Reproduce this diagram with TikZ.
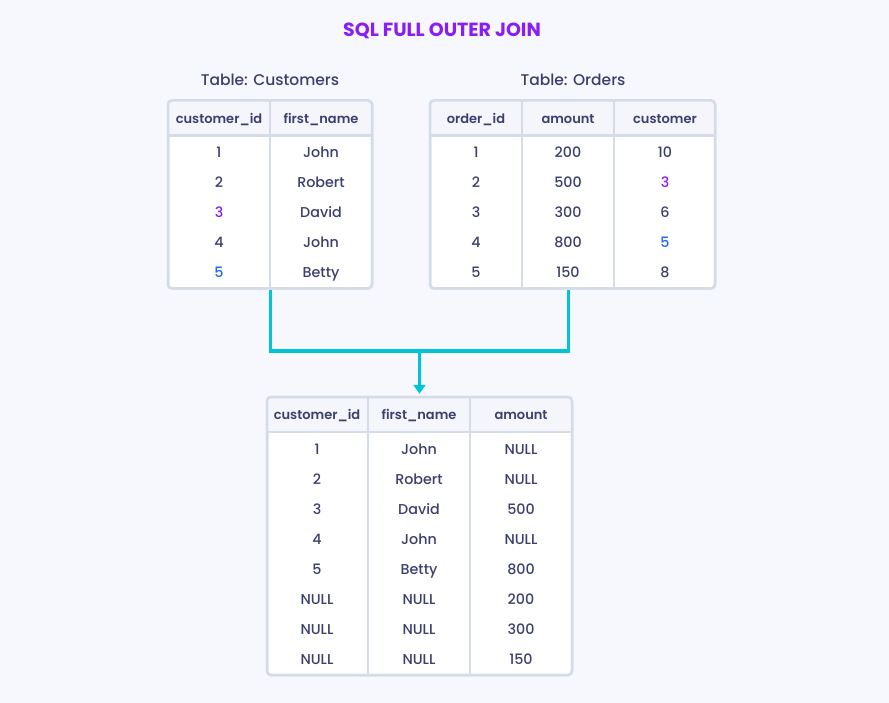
\documentclass[tikz,border=0pt]{standalone}
\usepackage{fontspec}
\setmainfont{Poppins}
\IfFontExistsTF{Poppins Medium}{\newfontfamily\medf{Poppins Medium}}{\newfontfamily\medf{Poppins}}
\IfFontExistsTF{Poppins SemiBold}{\newfontfamily\semif{Poppins SemiBold}}{\newfontfamily\semif{Poppins}[FakeBold=1.5]}
\usetikzlibrary{arrows.meta}
\definecolor{bg}{HTML}{F7F8FD}
\definecolor{hdr}{HTML}{F4F6FC}
\definecolor{grid}{HTML}{D3DCE7}
\definecolor{ink}{HTML}{3B3F6E}
\definecolor{purp}{HTML}{8A1CF6}
\definecolor{blu}{HTML}{1F66F5}
\definecolor{cyanl}{HTML}{00C5D6}
\tikzset{
  frame/.style={draw=grid, line width=2.5pt, rounded corners=4pt, fill=white, inner sep=0pt},
  gridline/.style={draw=grid, line width=2.5pt},
  hdrfill/.style={fill=hdr},
  hcell/.style={font=\semif\fontsize{13}{15}\selectfont, text=ink, inner sep=0pt, text height=9.5pt, text depth=0pt},
  cell/.style={font=\medf\fontsize{14.3}{16}\selectfont, text=ink, inner sep=0pt, text height=10pt, text depth=0pt},
  ttl/.style={font=\medf\fontsize{15.5}{18}\selectfont, text=ink, inner sep=0pt, text height=11pt, text depth=0pt},
  maintitle/.style={font=\bfseries\fontsize{19}{22}\selectfont, text=purp, inner sep=0pt, text height=13.5pt, text depth=0pt},
  conn/.style={draw=cyanl, line width=3pt},
}
\begin{document}
\begin{tikzpicture}[x=1pt,y=-1pt]
\fill[bg] (0,0) rectangle (889,703);
\useasboundingbox (0,0) rectangle (889,703);

\node[maintitle] (title) at (442,30) {SQL FULL OUTER JOIN};
\node[ttl] (tcust) at (270,80) {Table: Customers};
\node[ttl] (tord) at (573,80) {Table: Orders};

% Customers table
\node[frame, minimum width=204pt, minimum height=188pt] (custT) at (270,194.5) {};
\fill[hdrfill] (169,101) rectangle (371,135.5);
\draw[gridline] (168,135.5) -- (372,135.5);
\draw[gridline] (270,100.5) -- (270,288.5);
\draw[draw=grid, line width=2.5pt, rounded corners=4pt] (168,100.5) rectangle (372,288.5);
\node[hcell] (ch1) at (219,119) {customer\_id};
\node[hcell] (ch2) at (321,119) {first\_name};
\foreach \v [count=\r] in {1,2,{\color{purp}3},4,{\color{blu}5}}
  \node[cell] (c-\r-1) at (219,123+30*\r) {\v};
\foreach \v [count=\r] in {John,Robert,David,John,Betty}
  \node[cell] (c-\r-2) at (321,123+30*\r) {\v};

% Orders table
\node[frame, minimum width=285pt, minimum height=188pt] (ordT) at (572.5,194.5) {};
\fill[hdrfill] (431,101) rectangle (714,135.5);
\draw[gridline] (430,135.5) -- (715,135.5);
\draw[gridline] (522,100.5) -- (522,288.5);
\draw[gridline] (614,100.5) -- (614,288.5);
\draw[draw=grid, line width=2.5pt, rounded corners=4pt] (430,100.5) rectangle (715,288.5);
\node[hcell] (oh1) at (476,119) {order\_id};
\node[hcell] (oh2) at (568,119) {amount};
\node[hcell] (oh3) at (665,119) {customer};
\foreach \v [count=\r] in {1,2,3,4,5}
  \node[cell] (o-\r-1) at (476,123+30*\r) {\v};
\foreach \v [count=\r] in {200,500,300,800,150}
  \node[cell] (o-\r-2) at (568,123+30*\r) {\v};
\foreach \v [count=\r] in {10,{\color{purp}3},6,{\color{blu}5},8}
  \node[cell] (o-\r-3) at (665,123+30*\r) {\v};

% Result table
\node[frame, minimum width=305pt, minimum height=278pt] (resT) at (419.5,536) {};
\fill[hdrfill] (268,398) rectangle (571,432);
\draw[gridline] (267,432) -- (572,432);
\draw[gridline] (368,397) -- (368,675);
\draw[gridline] (470,397) -- (470,675);
\draw[draw=grid, line width=2.5pt, rounded corners=4pt] (267,397) rectangle (572,675);
\node[hcell] (rh1) at (317,415) {customer\_id};
\node[hcell] (rh2) at (419,415) {first\_name};
\node[hcell] (rh3) at (521,415) {amount};
\foreach \v [count=\r] in {1,2,3,4,5,NULL,NULL,NULL}
  \node[cell] (r-\r-1) at (317,419+30*\r) {\v};
\foreach \v [count=\r] in {John,Robert,David,John,Betty,NULL,NULL,NULL}
  \node[cell] (r-\r-2) at (419,419+30*\r) {\v};
\foreach \v [count=\r] in {NULL,NULL,500,NULL,800,200,300,150}
  \node[cell] (r-\r-3) at (521,419+30*\r) {\v};

% Connectors
\coordinate (joinY) at (0,351);
\draw[conn] (custT.south) -- (custT.south |- joinY) -- (joinY -| oh2) -- (ordT.south -| oh2);
\draw[conn, -{Triangle[length=9pt,width=12pt]}, shorten >=2pt] (joinY -| resT.north) -- (resT.north);
\end{tikzpicture}
\end{document}
